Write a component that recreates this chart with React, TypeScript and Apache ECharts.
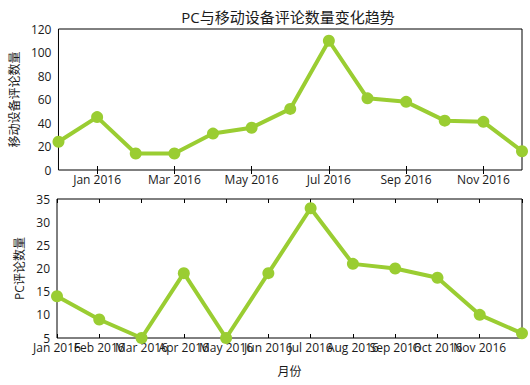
import React, { useEffect, useRef } from "react";
import * as echarts from "echarts";

// Monthly review counts from mobile devices (Dec 2015 – Dec 2016)
const mobileMonths = [
  "2015-12", "2016-01", "2016-02", "2016-03", "2016-04", "2016-05", "2016-06",
  "2016-07", "2016-08", "2016-09", "2016-10", "2016-11", "2016-12",
];
const mobileCounts = [24, 45, 14, 14, 31, 36, 52, 110, 61, 58, 42, 41, 16];

// Monthly review counts from PC (Jan 2016 – Dec 2016)
const pcMonths = [
  "2016-01", "2016-02", "2016-03", "2016-04", "2016-05", "2016-06",
  "2016-07", "2016-08", "2016-09", "2016-10", "2016-11", "2016-12",
];
const pcCounts = [14, 9, 5, 19, 5, 19, 33, 21, 20, 18, 10, 6];

const monthNames = ["Jan", "Feb", "Mar", "Apr", "May", "Jun", "Jul", "Aug", "Sep", "Oct", "Nov", "Dec"];

const titleText = "PC与移动设备评论数量变化趋势";
const mobileAxisName = "移动设备评论数量";
const pcAxisName = "PC评论数量";
const monthAxisName = "月份";

const FONT = "'Open Sans', 'Noto Sans CJK SC', sans-serif";
const TEXT = "#1a1a1a";
const LINE = "#9ACD32";

const fmtMonth = (v: string) => {
  const [y, m] = v.split("-");
  return `${monthNames[Number(m) - 1]} ${y}`;
};

// Top chart: label/tick every other month (Jan, Mar, May, ...)
const oddIdx = (i: number) => i % 2 === 1;
// Bottom chart: every month but the last is labelled; the labels are split
// over two stacked axes (even / odd months) so none of them gets auto-hidden.
const lastPc = pcMonths.length - 1;
const pcEvenIdx = (i: number) => i < lastPc && i % 2 === 0;
const pcOddIdx = (i: number) => i < lastPc && i % 2 === 1;

export default function App() {
  const ref = useRef<HTMLDivElement>(null);

  useEffect(() => {
    if (!ref.current) return;
    const chart = echarts.init(ref.current, null, { renderer: "svg" });

    const catBase = {
      type: "category" as const,
      boundaryGap: false,
      axisLine: { show: false },
      splitLine: { show: false },
    };
    const valBase = {
      type: "value" as const,
      axisLine: { show: false },
      splitLine: { show: false },
    };
    const tickStyle = { inside: true, length: 4, lineStyle: { color: "#000", width: 1 } };
    const labelStyle = { color: TEXT, fontFamily: FONT, fontSize: 12 };
    const pcLabel = { ...labelStyle, margin: 3, formatter: fmtMonth, hideOverlap: false };

    chart.setOption({
      animation: false,
      backgroundColor: "#fff",
      textStyle: { fontFamily: FONT },
      graphic: [
        {
          type: "text",
          x: 288,
          y: 17,
          style: {
            text: titleText,
            align: "center",
            verticalAlign: "middle",
            fontFamily: FONT,
            fontSize: 15,
            fill: TEXT,
          },
        },
      ],
      grid: [
        { left: 57, top: 29, width: 465, height: 141, show: true, borderColor: "#000", borderWidth: 1, backgroundColor: "transparent" },
        { left: 57, top: 199, width: 465, height: 139, show: true, borderColor: "#000", borderWidth: 1, backgroundColor: "transparent" },
      ],
      xAxis: [
        {
          ...catBase,
          gridIndex: 0,
          position: "bottom",
          data: mobileMonths,
          axisTick: { ...tickStyle, interval: oddIdx },
          axisLabel: { ...labelStyle, interval: oddIdx, margin: 3, formatter: fmtMonth, hideOverlap: false },
        },
        {
          ...catBase,
          gridIndex: 0,
          position: "top",
          data: mobileMonths,
          axisTick: { ...tickStyle, interval: oddIdx },
          axisLabel: { show: false },
        },
        {
          ...catBase,
          gridIndex: 1,
          position: "bottom",
          data: pcMonths,
          axisTick: { ...tickStyle, interval: 0 },
          axisLabel: { ...pcLabel, interval: pcEvenIdx },
          name: monthAxisName,
          nameLocation: "middle",
          nameGap: 27,
          nameTextStyle: { ...labelStyle },
        },
        {
          ...catBase,
          gridIndex: 1,
          position: "top",
          data: pcMonths,
          axisTick: { ...tickStyle, interval: 0 },
          axisLabel: { show: false },
        },
        {
          ...catBase,
          gridIndex: 1,
          position: "bottom",
          offset: 0,
          data: pcMonths,
          axisTick: { show: false },
          axisLabel: { ...pcLabel, interval: pcOddIdx },
        },
      ],
      yAxis: [
        {
          ...valBase,
          gridIndex: 0,
          position: "left",
          min: 0,
          max: 120,
          interval: 20,
          axisTick: tickStyle,
          axisLabel: { ...labelStyle, margin: 7, showMinLabel: true, showMaxLabel: true },
          name: mobileAxisName,
          nameLocation: "middle",
          nameGap: 32,
          nameTextStyle: { ...labelStyle },
        },
        {
          ...valBase,
          gridIndex: 0,
          position: "right",
          min: 0,
          max: 120,
          interval: 20,
          axisTick: tickStyle,
          axisLabel: { show: false },
        },
        {
          ...valBase,
          gridIndex: 1,
          position: "left",
          min: 5,
          max: 35,
          interval: 5,
          axisTick: tickStyle,
          axisLabel: { ...labelStyle, margin: 7, showMinLabel: true, showMaxLabel: true },
          name: pcAxisName,
          nameLocation: "middle",
          nameGap: 23,
          nameTextStyle: { ...labelStyle },
        },
        {
          ...valBase,
          gridIndex: 1,
          position: "right",
          min: 5,
          max: 35,
          interval: 5,
          axisTick: tickStyle,
          axisLabel: { show: false },
        },
      ],
      series: [
        {
          type: "line",
          xAxisIndex: 0,
          yAxisIndex: 0,
          data: mobileCounts,
          symbol: "circle",
          symbolSize: 12,
          showAllSymbol: true,
          lineStyle: { color: LINE, width: 4 },
          itemStyle: { color: LINE },
          emphasis: { disabled: true },
        },
        {
          type: "line",
          xAxisIndex: 2,
          yAxisIndex: 2,
          data: pcCounts,
          symbol: "circle",
          symbolSize: 12,
          showAllSymbol: true,
          lineStyle: { color: LINE, width: 4 },
          itemStyle: { color: LINE },
          emphasis: { disabled: true },
        },
      ],
    });

    return () => chart.dispose();
  }, []);

  return (
    <div
      ref={ref}
      style={{ position: "absolute", left: 0, top: 0, width: 530, height: 385 }}
    />
  );
}
